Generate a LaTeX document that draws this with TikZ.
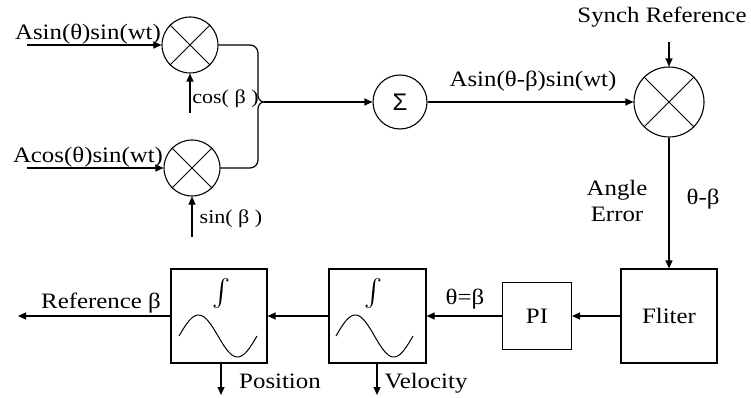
\documentclass[tikz,border=0pt]{standalone}
\usepackage{fontspec}
\setmainfont{Liberation Serif}[FakeStretch=1.13]
\newfontfamily\sigmafont{Liberation Sans}
\usetikzlibrary{arrows.meta}
\begin{document}
\begin{tikzpicture}[x=1pt,y=-1pt,
  font=\fontsize{22}{25}\selectfont,
  line width=1.2pt,
  arr/.style={-{Triangle[length=8pt,width=7pt]}},
  mult/.style={circle,draw,line width=1.1pt,inner sep=0pt},
  blk/.style={draw,line width=1.1pt,inner sep=0pt},
  lbl/.style={inner sep=0pt,anchor=base},
  small/.style={font=\fontsize{19.5}{22}\selectfont},
  xl/.style={line width=0.9pt},
  wave/.style={line width=1pt},
  intg/.style={font=\normalsize,scale=2.7,inner sep=0pt}]
\useasboundingbox (0,0) rectangle (751,398);

% multipliers and summer
\node[mult,minimum size=56pt] (m1) at (190,45) {};
\node[mult,minimum size=56pt] (m2) at (192,168) {};
\node[mult,minimum size=54pt] (sum) at (400,102) {\sigmafont\fontsize{24}{24}\selectfont Σ};
\node[mult,minimum size=70pt] (m3) at (669,102) {};
\foreach \m in {m1,m2,m3}{
  \draw[xl] (\m.north east) -- (\m.south west) (\m.north west) -- (\m.south east);
}

% blocks
\node[blk,minimum width=96pt,minimum height=94pt] (flt) at (669,316) {Fliter};
\node[blk,minimum width=69pt,minimum height=67pt] (pi) at (537,316) {PI};
\node[blk,minimum width=97pt,minimum height=94pt] (int2) at (377.5,316) {};
\node[blk,minimum width=96pt,minimum height=94pt] (int1) at (219,316) {};

% integrator symbols and waves
\node[intg] (i1) at (221,293) {$\int$};
\node[intg] (i2) at (373,293) {$\int$};
\draw[wave] plot[domain=0:360,samples=72,smooth] ({179+\x/360*78},{336-21*sin(\x)});
\draw[wave] plot[domain=0:360,samples=72,smooth] ({336+\x/360*77},{336-21*sin(\x)});

% free ends
\coordinate (in1) at (27,45);
\coordinate (c1) at (190,113);
\coordinate (in2) at (27,168);
\coordinate (s2) at (192,237);
\coordinate (j) at (264,102);
\coordinate (sr) at (669,42);
\coordinate (refo) at (18,316);
\coordinate (po) at (221,395);
\coordinate (vo) at (377,395);

% connectors
\draw[arr] (in1) -- (m1.west);
\draw[arr] (c1) -- (m1.south);
\draw[arr] (in2) -- (m2.west);
\draw[arr] (s2) -- (m2.south);
\draw (m1.east) -- (250,45) to[out=0,in=90] (258,53) -- (258,95) to[out=-90,in=180] (j);
\draw (m2.east) -- (250,168) to[out=0,in=-90] (258,160) -- (258,109) to[out=90,in=180] (j);
\draw[arr] (j) -- (sum.west);
\draw[arr] (sum.east) -- (m3.west);
\draw[arr] (sr) -- (m3.north);
\draw[arr] (m3.south) -- (flt.north);
\draw[arr] (flt.west) -- (pi.east);
\draw[arr] (pi.west) -- (int2.east);
\draw[arr] (int2.west) -- (int1.east);
\draw[arr] (int1.west) -- (refo);
\draw[arr] (int1.south -| po) -- (po);
\draw[arr] (int2.south -| vo) -- (vo);

% labels
\node[lbl] (t1) at (88,40) {Asin(θ)sin(wt)};
\node[lbl] (t2) at (88,162) {Acos(θ)sin(wt)};
\node[lbl,small] (t3) at (225.5,104) {cos( β )};
\node[lbl,small] (t4) at (231,223) {sin( β )};
\node[lbl] (t5) at (533,87) {Asin(θ-β)sin(wt)};
\node[lbl] (t6) at (662,23) {Synch Reference};
\node[lbl] (t7) at (617,195) {Angle};
\node[lbl] (t8) at (617,221) {Error};
\node[lbl] (t9) at (703,204) {θ-β};
\node[lbl] (t10) at (465,304) {θ=β};
\node[lbl] (t11) at (101,308) {Reference β};
\node[lbl] (t12) at (280,388) {Position};
\node[lbl] (t13) at (426,388) {Velocity};
\end{tikzpicture}
\end{document}
